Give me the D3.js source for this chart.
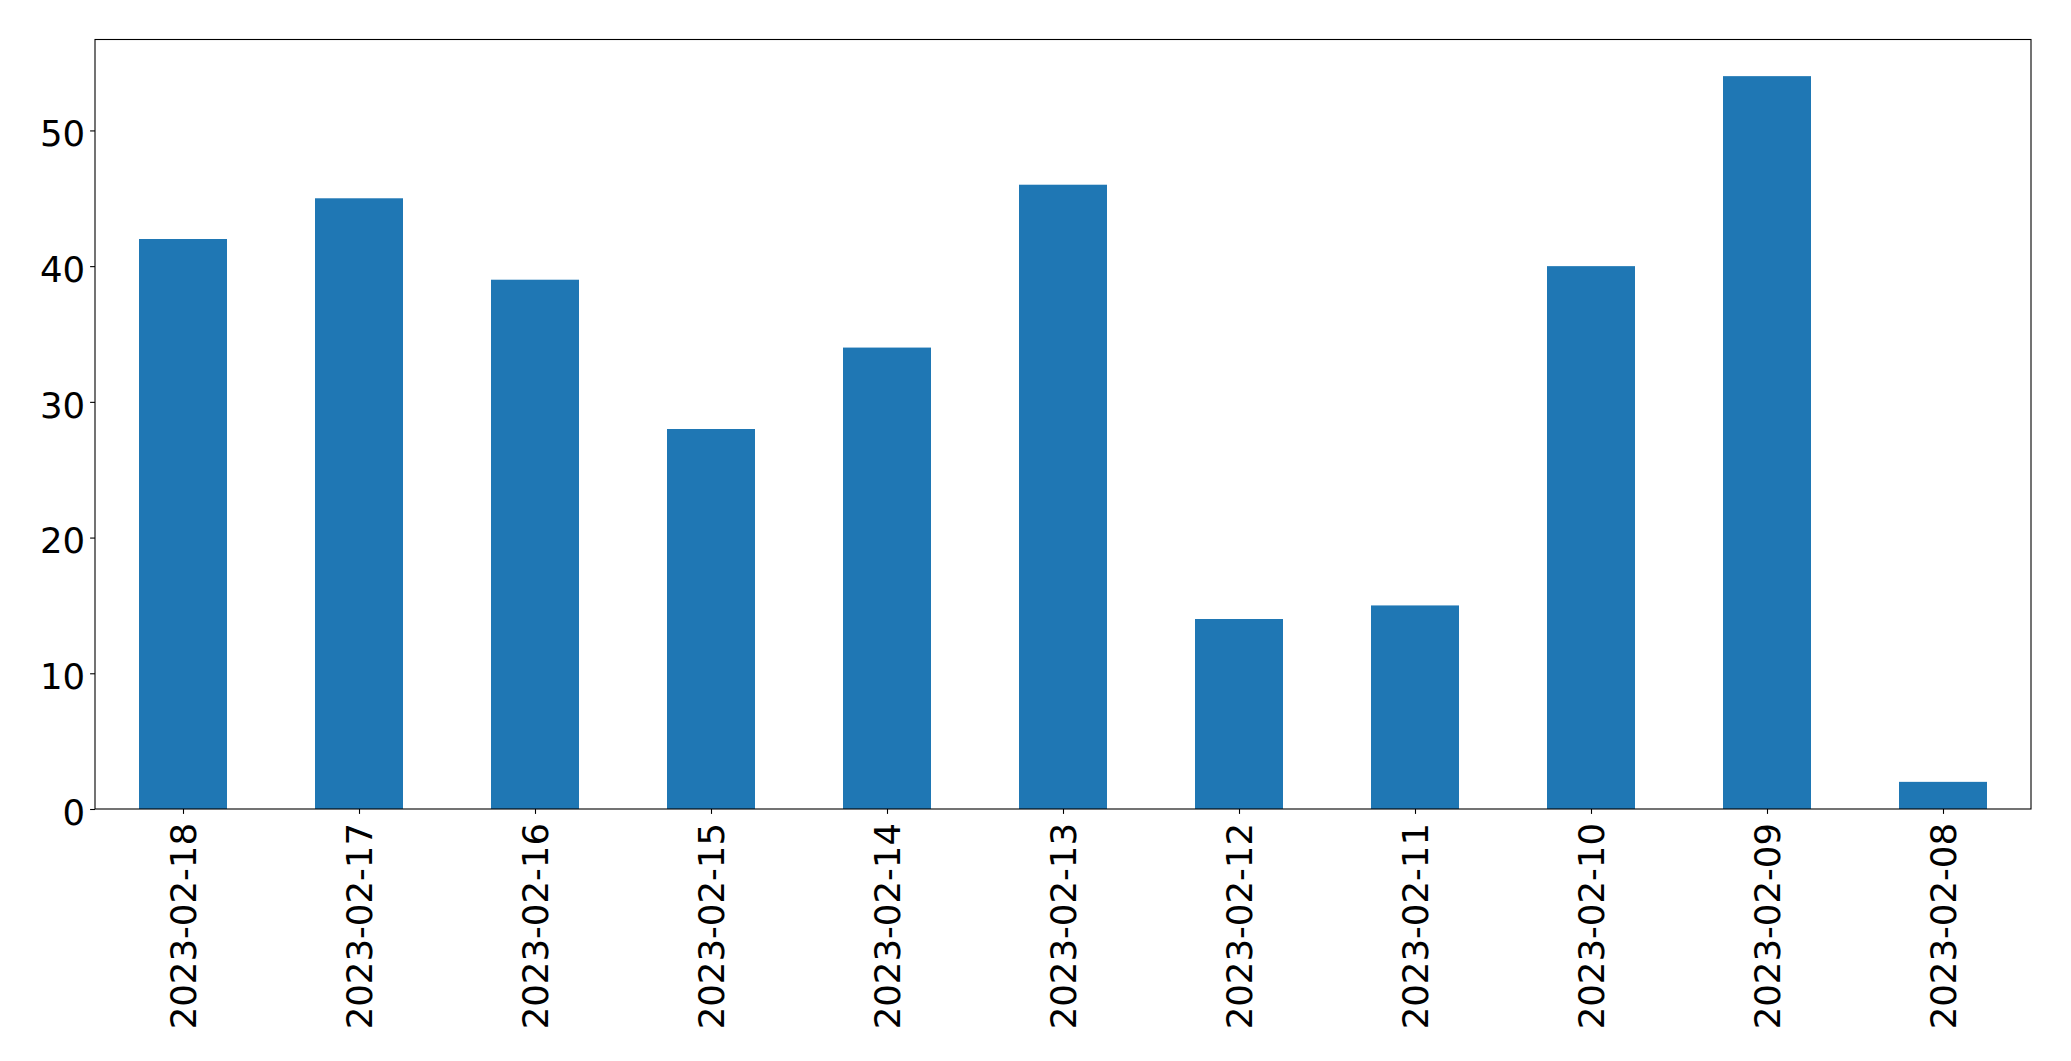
<!DOCTYPE html>
<html><head><meta charset="utf-8">
<script src="https://cdn.jsdelivr.net/npm/d3@7"></script>
<style>html,body{margin:0;padding:0;background:#fff;}svg{display:block;}</style>
</head><body>
<svg id="chart" width="2071" height="1061"></svg>
<script>
const categories = ["2023-02-18","2023-02-17","2023-02-16","2023-02-15","2023-02-14","2023-02-13","2023-02-12","2023-02-11","2023-02-10","2023-02-09","2023-02-08"];
const values = [42, 45, 39, 28, 34, 46, 14, 15, 40, 54, 2];
const yTicks = [0, 10, 20, 30, 40, 50];

const W = 2071, H = 1061;
const m = {left: 95, right: 2031, top: 39.5, bottom: 809};
const fs = 35.5;
const font = "'DejaVu Sans', sans-serif";
const svg = d3.select("#chart");

const x = d3.scaleLinear().domain([-0.5, categories.length - 0.5]).range([m.left, m.right]);
const y = d3.scaleLinear().domain([0, d3.max(values) * 1.05]).range([m.bottom, m.top]);
const bw = x(0.5) - x(0);

svg.append("g").selectAll("rect").data(values).join("rect")
  .attr("x", (d, i) => x(i) - bw / 2)
  .attr("width", bw)
  .attr("y", d => y(d))
  .attr("height", d => y(0) - y(d))
  .attr("fill", "#1f77b4");

// y axis
const yAxis = d3.axisLeft(y).tickValues(yTicks).tickFormat(d3.format("d")).tickSize(4.9).tickPadding(4.9);
const gy = svg.append("g").attr("transform", `translate(${m.left},0)`).call(yAxis);
gy.select(".domain").remove();
gy.selectAll(".tick line").attr("stroke", "#000").attr("stroke-width", 1.1);
gy.selectAll(".tick text").attr("font-family", font).attr("font-size", fs).attr("fill", "#000").attr("dy", "0.43em");

// x axis
const xAxis = d3.axisBottom(x).tickValues(d3.range(categories.length)).tickFormat(i => categories[i]).tickSize(4.9).tickPadding(0);
const gx = svg.append("g").attr("transform", `translate(0,${m.bottom})`).call(xAxis);
gx.select(".domain").remove();
gx.selectAll(".tick line").attr("stroke", "#000").attr("stroke-width", 1.1);
gx.selectAll(".tick text")
  .attr("font-family", font).attr("font-size", fs).attr("fill", "#000")
  .attr("text-anchor", "end")
  .attr("y", 0).attr("dy", "0.36em")
  .attr("transform", "translate(0,14) rotate(-90)");

// frame
svg.append("rect")
  .attr("x", m.left).attr("y", m.top)
  .attr("width", m.right - m.left).attr("height", m.bottom - m.top)
  .attr("fill", "none").attr("stroke", "#000").attr("stroke-width", 1.1);
</script>
</body></html>
